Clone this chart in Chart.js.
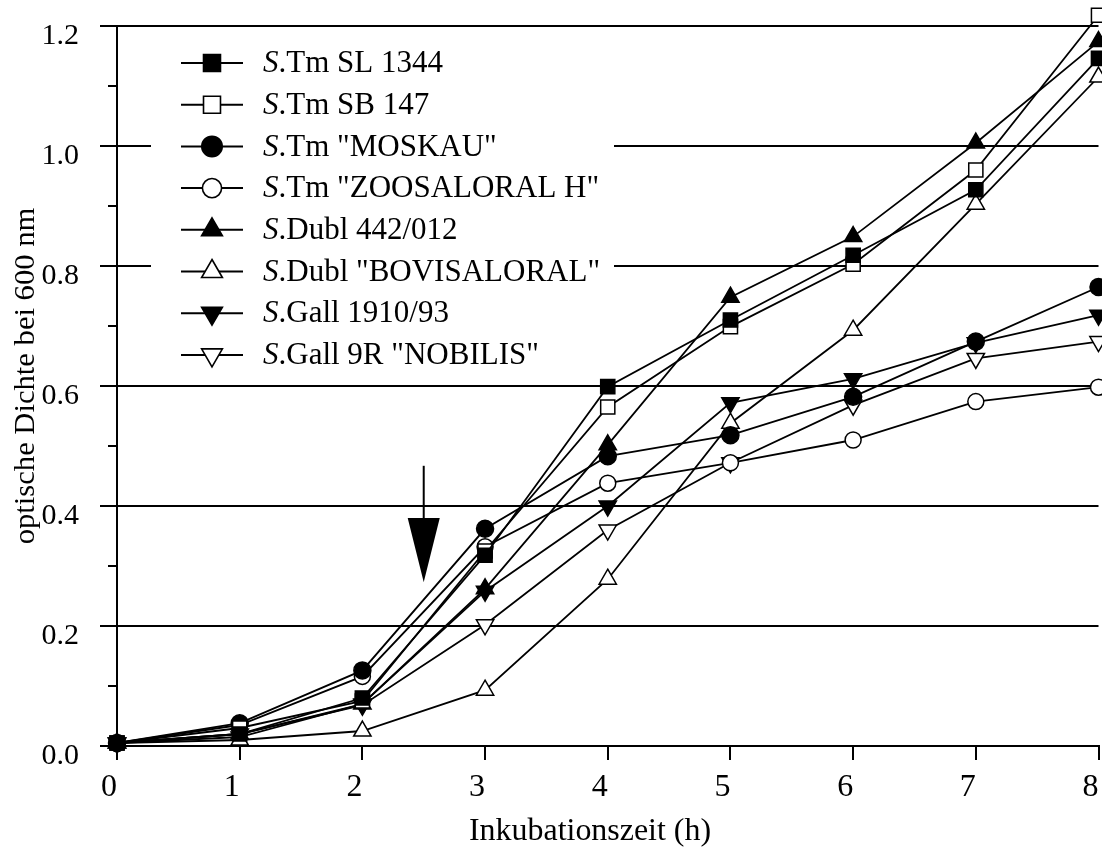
<!DOCTYPE html>
<html>
<head>
<meta charset="utf-8">
<script src="https://cdn.jsdelivr.net/npm/chart.js@4.4.1/dist/chart.umd.min.js"></script>
<style>
  html, body { margin: 0; padding: 0; background: #fff; overflow: hidden; }
  #wrap { width: 1110px; height: 850px; }
</style>
</head>
<body>
<div id="wrap"><canvas id="growth" width="1110" height="850"></canvas></div>
<script>
// Inkubationszeit (h)
const hours = [0, 1, 2, 3, 4, 5, 6, 7, 8];

// optische Dichte bei 600 nm
const tmSL1344     = [0.005, 0.020, 0.080, 0.318, 0.599, 0.710, 0.818, 0.927, 1.146];
const tmSB147      = [0.005, 0.030, 0.075, 0.325, 0.565, 0.699, 0.803, 0.960, 1.218];
const tmMoskau     = [0.005, 0.038, 0.126, 0.362, 0.483, 0.518, 0.582, 0.674, 0.765];
const tmZoosaloral = [0.005, 0.035, 0.116, 0.332, 0.438, 0.472, 0.510, 0.574, 0.598];
const dubl442      = [0.005, 0.020, 0.070, 0.262, 0.502, 0.748, 0.849, 1.005, 1.174];
const dublBovis    = [0.005, 0.010, 0.025, 0.093, 0.278, 0.538, 0.693, 0.903, 1.115];
const gall1910     = [0.005, 0.015, 0.070, 0.258, 0.400, 0.572, 0.612, 0.672, 0.718];
const gall9R       = [0.005, 0.020, 0.068, 0.202, 0.360, 0.472, 0.568, 0.646, 0.674];

const strainNames = [
  'S.Tm SL 1344',
  'S.Tm SB 147',
  'S.Tm "MOSKAU"',
  'S.Tm "ZOOSALORAL H"',
  'S.Dubl 442/012',
  'S.Dubl "BOVISALORAL"',
  'S.Gall 1910/93',
  'S.Gall 9R "NOBILIS"'
];
const seriesValues = [tmSL1344, tmSB147, tmMoskau, tmZoosaloral, dubl442, dublBovis, gall1910, gall9R];

// y tick labels (major ticks only, minor ticks every 0.1)
const yTickLabels = ['0.0', '0.2', '0.4', '0.6', '0.8', '1.0', '1.2'];

// arrow marking the time of addition (x = 2.5 h)
const arrowAt = 2.5, arrowFrom = 0.467, arrowHead = 0.38, arrowTip = 0.273;

// marker look for each strain
const markers = [
  { shape: 'rect',     rot: 0,   r: 10,  fill: true },
  { shape: 'rect',     rot: 0,   r: 10,  fill: false },
  { shape: 'circle',   rot: 0,   r: 8.5, fill: true },
  { shape: 'circle',   rot: 0,   r: 8,   fill: false },
  { shape: 'triangle', rot: 0,   r: 10,  fill: true },
  { shape: 'triangle', rot: 0,   r: 10,  fill: false },
  { shape: 'triangle', rot: 180, r: 10,  fill: true },
  { shape: 'triangle', rot: 180, r: 10,  fill: false }
];

const FONT = '"Liberation Serif", "Times New Roman", Times, serif';

function isMajor(v) {
  return Math.round(v * 10) % 2 === 0;
}

// own marker painter for the legend
function drawMarker(ctx, m, cx, cy, r) {
  ctx.beginPath();
  if (m.shape === 'rect') {
    const s = r * Math.SQRT1_2;
    ctx.rect(cx - s, cy - s, 2 * s, 2 * s);
  } else if (m.shape === 'circle') {
    ctx.arc(cx, cy, r, 0, Math.PI * 2);
  } else {
    const dir = m.rot === 180 ? -1 : 1;
    ctx.moveTo(cx, cy - dir * r);
    ctx.lineTo(cx + r * 0.866, cy + dir * r / 2);
    ctx.lineTo(cx - r * 0.866, cy + dir * r / 2);
    ctx.closePath();
  }
  ctx.fillStyle = m.fill ? '#000' : '#fff';
  ctx.fill();
  ctx.lineWidth = 1.6;
  ctx.strokeStyle = '#000';
  ctx.stroke();
}

function stretchedText(ctx, text, cx, cy, rot, font, sx) {
  ctx.save();
  ctx.translate(cx, cy);
  ctx.rotate(rot);
  ctx.scale(sx, 1);
  ctx.font = font;
  ctx.fillStyle = '#000';
  ctx.textAlign = 'center';
  ctx.textBaseline = 'middle';
  ctx.fillText(text, 0, 0);
  ctx.restore();
}

const decorPlugin = {
  id: 'decor',
  afterDraw(chart) {
    const { ctx, chartArea, scales } = chart;
    const xs = scales.x, ys = scales.y;
    ctx.save();

    // short minor ticks on the y axis
    ctx.strokeStyle = '#000';
    ctx.lineWidth = 2;
    ys.ticks.forEach(t => {
      if (isMajor(t.value)) return;
      const py = Math.round(ys.getPixelForValue(t.value));
      ctx.beginPath();
      ctx.moveTo(chartArea.left - 9, py);
      ctx.lineTo(chartArea.left, py);
      ctx.stroke();
    });

    // arrow
    const ax = xs.getPixelForValue(arrowAt);
    const yTop = ys.getPixelForValue(arrowFrom);
    const yHead = ys.getPixelForValue(arrowHead);
    const yTip = ys.getPixelForValue(arrowTip);
    ctx.beginPath();
    ctx.moveTo(ax, yTop);
    ctx.lineTo(ax, yHead);
    ctx.stroke();
    ctx.beginPath();
    ctx.moveTo(ax - 16, yHead);
    ctx.lineTo(ax + 16, yHead);
    ctx.lineTo(ax, yTip);
    ctx.closePath();
    ctx.fillStyle = '#000';
    ctx.fill();

    // legend box (hides the grid lines behind it)
    ctx.fillStyle = '#fff';
    ctx.fillRect(151, 36, 463, 340);
    const rowTop = 63, rowGap = 41.7;
    strainNames.forEach((name, i) => {
      const cy = rowTop + i * rowGap;
      ctx.strokeStyle = '#000';
      ctx.lineWidth = 2;
      ctx.beginPath();
      ctx.moveTo(181, cy);
      ctx.lineTo(243, cy);
      ctx.stroke();
      drawMarker(ctx, markers[i], 212, cy, markers[i].r * 1.2);

      ctx.save();
      ctx.translate(263, cy + 1);
      ctx.fillStyle = '#000';
      ctx.textAlign = 'left';
      ctx.textBaseline = 'middle';
      ctx.font = 'italic 31px ' + FONT;
      const head = name.charAt(0);
      ctx.fillText(head, 0, 0);
      const w = ctx.measureText(head).width;
      ctx.font = '31px ' + FONT;
      ctx.fillText(name.slice(1), w, 0);
      ctx.restore();
    });

    // axis titles
    stretchedText(ctx, 'Inkubationszeit (h)', 590, 832, 0, '31px ' + FONT, 1.03);
    stretchedText(ctx, 'optische Dichte bei 600 nm', 26, 376, -Math.PI / 2, '30px ' + FONT, 1.02);

    ctx.restore();
  }
};

const datasets = seriesValues.map((vals, i) => ({
  label: strainNames[i],
  data: hours.map((h, j) => ({ x: h, y: vals[j] })),
  borderColor: '#000',
  borderWidth: 1.8,
  pointStyle: markers[i].shape,
  rotation: markers[i].rot,
  pointRadius: markers[i].r,
  pointHoverRadius: markers[i].r,
  pointBackgroundColor: markers[i].fill ? '#000' : '#fff',
  pointBorderColor: '#000',
  pointBorderWidth: 1.5,
  tension: 0,
  fill: false,
  clip: false
}));

new Chart(document.getElementById('growth').getContext('2d'), {
  type: 'line',
  data: { datasets },
  plugins: [decorPlugin],
  options: {
    responsive: false,
    animation: false,
    devicePixelRatio: 1,
    layout: { padding: { left: 0, right: 11, top: 26, bottom: 0 } },
    plugins: {
      legend: { display: false },
      tooltip: { enabled: false },
      title: { display: false }
    },
    scales: {
      x: {
        type: 'linear',
        min: 0,
        max: 8,
        afterFit: (s) => { s.height = 104; s.paddingLeft = 0; s.paddingRight = 0; },
        ticks: {
          stepSize: 1,
          color: '#000',
          padding: 8,
          labelOffset: -8,
          font: { family: FONT, size: 32 }
        },
        grid: { drawOnChartArea: false, color: '#000', lineWidth: 2, tickLength: 14 },
        border: { color: '#000', width: 2 }
      },
      y: {
        min: 0,
        max: 1.2,
        afterFit: (s) => { s.width = 117; s.paddingTop = 0; s.paddingBottom = 0; },
        ticks: {
          stepSize: 0.1,
          color: '#000',
          padding: 21,
          labelOffset: 10,
          font: { family: FONT, size: 30 },
          callback: (v) => isMajor(v) ? yTickLabels[Math.round(v * 5)] : ''
        },
        grid: {
          drawOnChartArea: true,
          lineWidth: 2,
          tickLength: 17,
          color: (c) => (c.tick && c.tick.value > 0.001 && isMajor(c.tick.value)) ? '#000' : 'rgba(0,0,0,0)',
          tickColor: (c) => (c.tick && isMajor(c.tick.value)) ? '#000' : 'rgba(0,0,0,0)'
        },
        border: { color: '#000', width: 2 }
      }
    }
  }
});
</script>
</body>
</html>
